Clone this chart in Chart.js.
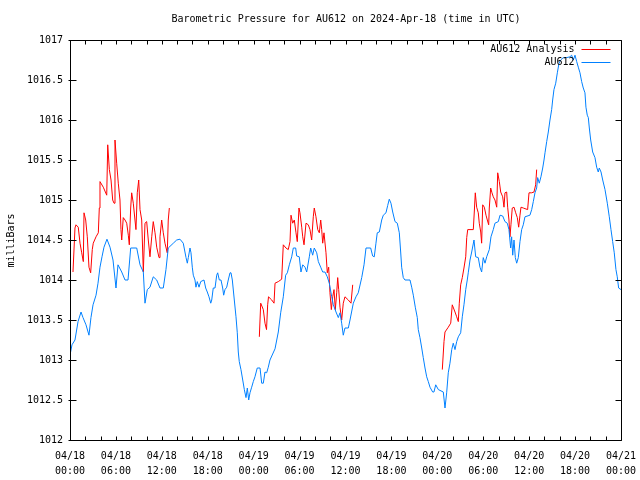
<!DOCTYPE html>
<html>
<head>
<meta charset="utf-8">
<script src="https://cdn.jsdelivr.net/npm/chart.js@4.4.1/dist/chart.umd.min.js"></script>
<style>
  html, body { margin: 0; padding: 0; background: #fff; }
</style>
</head>
<body>
<canvas id="pressureChart" width="640" height="480"></canvas>
<script>
// hours since 04/18 00:00 UTC, pressure in mb
const blueSeries = [
  [0.00,1013.06],[0.26,1013.19],[0.65,1013.25],[1.05,1013.48],[1.44,1013.60],[1.70,1013.53],[2.09,1013.44],[2.48,1013.31],
  [2.74,1013.53],[3.01,1013.69],[3.40,1013.81],[3.66,1013.96],[3.92,1014.16],[4.18,1014.29],[4.44,1014.41],[4.83,1014.51],
  [5.23,1014.41],[5.62,1014.25],[6.01,1013.90],[6.27,1014.19],[6.76,1014.10],[7.19,1014.00],[7.58,1014.00],[7.93,1014.40],
  [8.72,1014.40],[9.15,1014.19],[9.58,1014.10],[9.80,1013.71],[10.10,1013.88],[10.45,1013.91],[10.88,1014.04],[11.33,1014.00],
  [11.76,1013.90],[12.19,1013.90],[12.54,1014.13],[12.84,1014.40],[13.50,1014.46],[13.94,1014.50],[14.37,1014.51],[14.80,1014.46],
  [15.16,1014.28],[15.33,1014.21],[15.46,1014.28],[15.68,1014.40],[15.81,1014.34],[15.98,1014.16],[16.11,1014.06],[16.33,1014.00],
  [16.46,1013.91],[16.63,1013.98],[16.86,1013.91],[17.08,1013.98],[17.51,1014.00],[17.73,1013.90],[17.94,1013.85],[18.16,1013.79],
  [18.39,1013.71],[18.52,1013.75],[18.72,1013.90],[18.95,1013.90],[19.17,1014.06],[19.30,1014.09],[19.51,1014.00],[19.73,1014.00],
  [19.95,1013.90],[20.08,1013.81],[20.25,1013.88],[20.48,1013.91],[20.68,1014.00],[20.91,1014.09],[21.04,1014.09],[21.21,1014.00],
  [21.47,1013.75],[21.69,1013.54],[21.86,1013.34],[21.99,1013.10],[22.12,1012.98],[22.34,1012.88],[22.57,1012.75],[22.78,1012.63],
  [23.00,1012.53],[23.17,1012.65],[23.35,1012.50],[23.52,1012.59],[23.74,1012.66],[23.95,1012.73],[24.17,1012.79],[24.47,1012.90],
  [24.83,1012.90],[25.05,1012.71],[25.26,1012.71],[25.48,1012.85],[25.70,1012.84],[25.91,1012.91],[26.13,1013.00],[26.79,1013.14],
  [27.22,1013.35],[27.53,1013.59],[27.87,1013.79],[28.18,1014.06],[28.40,1014.09],[28.66,1014.19],[28.97,1014.29],[29.18,1014.40],
  [29.49,1014.40],[29.62,1014.30],[29.96,1014.29],[30.18,1014.10],[30.41,1014.19],[30.71,1014.16],[30.93,1014.10],[31.27,1014.29],
  [31.45,1014.40],[31.71,1014.31],[31.92,1014.40],[32.24,1014.34],[32.45,1014.23],[32.76,1014.16],[33.02,1014.10],[33.32,1014.10],
  [33.62,1014.04],[33.88,1013.96],[34.20,1013.79],[34.41,1013.69],[34.76,1013.60],[35.06,1013.53],[35.28,1013.59],[35.50,1013.46],
  [35.71,1013.31],[35.93,1013.40],[36.37,1013.40],[36.59,1013.50],[37.02,1013.71],[37.37,1013.79],[37.67,1013.84],[38.12,1014.03],
  [38.42,1014.19],[38.68,1014.40],[39.29,1014.40],[39.55,1014.30],[39.76,1014.29],[39.98,1014.46],[40.15,1014.59],[40.42,1014.60],
  [40.73,1014.75],[40.94,1014.81],[41.29,1014.84],[41.51,1014.93],[41.72,1015.01],[41.94,1014.96],[42.17,1014.85],[42.47,1014.73],
  [42.77,1014.71],[43.03,1014.59],[43.21,1014.35],[43.34,1014.16],[43.55,1014.03],[43.77,1014.00],[44.43,1014.00],[44.65,1013.91],
  [44.86,1013.81],[45.12,1013.66],[45.38,1013.53],[45.51,1013.38],[45.73,1013.28],[45.96,1013.15],[46.16,1013.03],[46.39,1012.90],
  [46.61,1012.79],[46.82,1012.73],[47.04,1012.66],[47.39,1012.60],[47.56,1012.60],[47.79,1012.69],[48.13,1012.63],[48.78,1012.60],
  [49.00,1012.40],[49.22,1012.59],[49.43,1012.84],[49.65,1012.96],[49.88,1013.13],[50.08,1013.21],[50.31,1013.13],[50.53,1013.23],
  [50.74,1013.29],[51.05,1013.34],[51.26,1013.54],[51.48,1013.69],[51.71,1013.88],[51.91,1014.00],[52.04,1014.09],[52.27,1014.25],
  [52.49,1014.35],[52.79,1014.50],[53.01,1014.29],[53.35,1014.28],[53.57,1014.16],[53.79,1014.10],[54.00,1014.28],[54.23,1014.21],
  [54.45,1014.29],[54.79,1014.38],[55.01,1014.54],[55.31,1014.63],[55.53,1014.71],[55.97,1014.73],[56.19,1014.81],[56.54,1014.80],
  [56.84,1014.73],[57.14,1014.71],[57.36,1014.63],[57.58,1014.40],[57.71,1014.54],[57.85,1014.31],[58.02,1014.50],[58.19,1014.28],
  [58.37,1014.21],[58.58,1014.28],[58.80,1014.48],[59.02,1014.63],[59.23,1014.69],[59.45,1014.79],[60.10,1014.81],[60.33,1014.88],
  [60.54,1014.98],[60.76,1015.09],[60.98,1015.15],[61.11,1015.28],[61.32,1015.21],[61.54,1015.29],[61.77,1015.40],[61.94,1015.50],
  [62.07,1015.59],[62.29,1015.73],[62.50,1015.85],[62.72,1016.00],[62.94,1016.13],[63.07,1016.25],[63.24,1016.38],[63.47,1016.46],
  [63.68,1016.59],[63.90,1016.71],[64.12,1016.75],[64.46,1016.78],[64.90,1016.78],[65.33,1016.79],[65.55,1016.81],[65.77,1016.75],
  [65.99,1016.81],[66.21,1016.73],[66.42,1016.66],[66.64,1016.59],[66.86,1016.48],[67.07,1016.40],[67.29,1016.34],[67.42,1016.16],
  [67.59,1016.06],[67.73,1016.03],[67.86,1015.90],[68.04,1015.75],[68.30,1015.60],[68.60,1015.53],[68.82,1015.41],[69.03,1015.35],
  [69.16,1015.40],[69.39,1015.35],[69.61,1015.25],[69.91,1015.13],[70.21,1014.96],[70.47,1014.79],[70.69,1014.63],[70.91,1014.48],
  [71.12,1014.34],[71.34,1014.13],[71.51,1014.04],[71.69,1013.90],[72.00,1013.88]
];

// analysis runs, null marks the breaks between them
const analysisSeries = [
  [0.39,1014.10],[0.65,1014.65],[0.78,1014.69],[1.08,1014.66],[1.31,1014.46],[1.53,1014.34],[1.74,1014.23],[1.83,1014.84],
  [2.05,1014.75],[2.26,1014.54],[2.48,1014.16],[2.70,1014.09],[2.91,1014.38],[3.04,1014.46],[3.40,1014.54],[3.70,1014.59],
  [3.83,1014.90],[3.92,1015.23],[4.35,1015.16],[4.80,1015.06],[4.93,1015.69],[5.14,1015.38],[5.36,1015.25],[5.58,1015.00],
  [5.75,1014.96],[5.88,1015.75],[6.10,1015.46],[6.31,1015.21],[6.53,1015.00],[6.66,1014.63],[6.76,1014.50],[6.96,1014.78],
  [7.19,1014.75],[7.41,1014.71],[7.62,1014.56],[7.75,1014.44],[7.93,1014.90],[8.06,1015.09],[8.27,1014.96],[8.49,1014.75],
  [8.62,1014.63],[8.79,1015.09],[8.98,1015.25],[9.15,1014.88],[9.37,1014.75],[9.58,1014.10],[9.80,1014.71],[10.02,1014.73],
  [10.23,1014.50],[10.45,1014.29],[10.68,1014.54],[10.88,1014.73],[11.11,1014.59],[11.33,1014.41],[11.63,1014.28],[11.76,1014.54],
  [11.98,1014.75],[12.19,1014.59],[12.41,1014.46],[12.71,1014.34],[12.84,1014.75],[12.98,1014.90],
  [18.00,null],
  [24.74,1013.29],[24.92,1013.71],[25.26,1013.63],[25.48,1013.46],[25.68,1013.38],[25.83,1013.69],[25.94,1013.79],[26.36,1013.75],
  [26.66,1013.71],[26.79,1013.96],[27.22,1013.98],[27.66,1014.01],[27.87,1014.44],[28.22,1014.40],[28.52,1014.38],[28.75,1014.48],
  [28.88,1014.81],[29.10,1014.71],[29.31,1014.75],[29.53,1014.59],[29.70,1014.48],[29.92,1014.90],[30.05,1014.84],[30.28,1014.66],
  [30.41,1014.54],[30.58,1014.44],[30.84,1014.71],[31.14,1014.69],[31.36,1014.63],[31.58,1014.50],[31.79,1014.79],[31.92,1014.90],
  [32.14,1014.79],[32.37,1014.63],[32.58,1014.59],[32.76,1014.75],[32.89,1014.63],[33.02,1014.46],[33.19,1014.59],[33.45,1014.34],
  [33.62,1014.09],[33.80,1014.16],[33.97,1013.84],[34.15,1013.63],[34.33,1013.79],[34.50,1013.88],[34.67,1013.63],[34.85,1013.84],
  [34.98,1014.03],[35.11,1013.88],[35.28,1013.66],[35.50,1013.50],[35.71,1013.71],[35.93,1013.79],[36.37,1013.75],[36.72,1013.71],
  [36.94,1013.94],
  [42.00,null],
  [48.65,1012.88],[48.87,1013.23],[49.00,1013.35],[49.43,1013.41],[49.75,1013.46],[49.95,1013.69],[50.31,1013.60],[50.53,1013.54],
  [50.74,1013.48],[50.87,1013.71],[51.05,1013.94],[51.26,1014.03],[51.48,1014.15],[51.71,1014.29],[51.84,1014.53],[51.97,1014.63],
  [52.70,1014.63],[52.83,1014.85],[52.96,1015.09],[53.14,1014.91],[53.35,1014.84],[53.48,1014.71],[53.67,1014.60],[53.79,1014.46],
  [53.93,1014.94],[54.14,1014.91],[54.36,1014.81],[54.53,1014.75],[54.71,1014.69],[54.79,1014.90],[54.97,1015.15],[55.14,1015.09],
  [55.31,1015.04],[55.53,1015.00],[55.76,1014.91],[55.89,1015.34],[56.10,1015.23],[56.28,1015.10],[56.54,1015.04],[56.71,1014.91],
  [56.84,1015.09],[57.06,1015.10],[57.19,1014.91],[57.36,1014.75],[57.49,1014.54],[57.62,1014.69],[57.79,1014.90],[58.02,1014.91],
  [58.24,1014.84],[58.45,1014.78],[58.63,1014.66],[58.80,1014.81],[58.93,1014.91],[59.23,1014.90],[59.80,1014.88],[59.98,1015.09],
  [60.33,1015.09],[60.63,1015.10],[60.85,1015.19],[60.98,1015.38]
];

const tickDates = ['04/18', '04/18', '04/18', '04/18', '04/19', '04/19', '04/19', '04/19', '04/20', '04/20', '04/20', '04/20', '04/21'];
const tickTimes = ['00:00', '06:00', '12:00', '18:00', '00:00', '06:00', '12:00', '18:00', '00:00', '06:00', '12:00', '18:00', '00:00'];

const FONT = '"DejaVu Sans Mono", "Liberation Mono", monospace';

// gnuplot style frame: box, inward tics on all sides, title, legend, y label
const gnuplotFrame = {
  id: 'gnuplotFrame',
  afterDraw(chart) {
    const { ctx, chartArea: a, scales: { x, y } } = chart;
    const L = Math.round(a.left) + 0.5, R = Math.round(a.right) + 0.5;
    const T = Math.round(a.top) + 0.5, B = Math.round(a.bottom) + 0.5;
    ctx.save();
    ctx.strokeStyle = '#000';
    ctx.lineWidth = 1;
    ctx.beginPath();
    ctx.rect(L, T, R - L, B - T);
    for (let h = 0; h <= 72; h += 2) {
      const px = Math.round(x.getPixelForValue(h)) + 0.5;
      ctx.moveTo(px, B); ctx.lineTo(px, B - 4);
      ctx.moveTo(px, T); ctx.lineTo(px, T + 4);
    }
    for (let p = 1012; p <= 1017; p += 0.5) {
      const py = Math.round(y.getPixelForValue(p)) + 0.5;
      ctx.moveTo(L - 2, py); ctx.lineTo(L + 6, py);
      ctx.moveTo(R, py); ctx.lineTo(R - 6, py);
    }
    ctx.stroke();

    ctx.fillStyle = '#000';
    ctx.font = '10px ' + FONT;
    ctx.textAlign = 'center';
    ctx.textBaseline = 'middle';
    ctx.fillText('Barometric Pressure for AU612 on 2024-Apr-18 (time in UTC)', (L + R) / 2, 19);

    ctx.save();
    ctx.translate(11, (T + B) / 2);
    ctx.rotate(-Math.PI / 2);
    ctx.fillText('milliBars', 0, 0);
    ctx.restore();

    ctx.textAlign = 'right';
    chart.data.datasets.forEach((ds, i) => {
      const ly = Math.round(a.top + 9 + i * 13) + 0.5;
      ctx.fillStyle = '#000';
      ctx.fillText(ds.label, R - 47, ly);
      ctx.strokeStyle = ds.borderColor;
      ctx.beginPath();
      ctx.moveTo(R - 40, ly);
      ctx.lineTo(R - 11, ly);
      ctx.stroke();
    });
    ctx.restore();
  }
};

const toPoints = rows => rows.map(r => ({ x: r[0], y: r[1] }));

new Chart(document.getElementById('pressureChart'), {
  type: 'line',
  data: {
    datasets: [{
      label: 'AU612 Analysis',
      data: toPoints(analysisSeries),
      borderColor: '#ff0000',
      borderWidth: 1,
      pointRadius: 0,
      tension: 0,
      spanGaps: false,
      order: 2
    }, {
      label: 'AU612',
      data: toPoints(blueSeries),
      borderColor: '#0080ff',
      borderWidth: 1,
      pointRadius: 0,
      tension: 0,
      order: 1
    }]
  },
  options: {
    responsive: false,
    animation: false,
    devicePixelRatio: 1,
    layout: { padding: { top: 40, right: 19, left: 0, bottom: 0 } },
    plugins: {
      legend: { display: false },
      title: { display: false },
      tooltip: { enabled: false }
    },
    scales: {
      x: {
        type: 'linear',
        min: 0,
        max: 72,
        grid: { display: false, drawTicks: false },
        border: { display: false },
        afterFit: scale => {
          scale.height = 40;
          scale.paddingLeft = 0;
          scale.paddingRight = 0;
        },
        ticks: {
          stepSize: 6,
          autoSkip: false,
          maxRotation: 0,
          padding: 9,
          color: '#000',
          font: { family: FONT, size: 10, lineHeight: 1.5 },
          callback: v => [tickDates[v / 6], tickTimes[v / 6]]
        }
      },
      y: {
        min: 1012,
        max: 1017,
        grid: { display: false, drawTicks: false },
        border: { display: false },
        afterFit: scale => {
          scale.width = 70;
          scale.paddingTop = 0;
          scale.paddingBottom = 0;
        },
        ticks: {
          stepSize: 0.5,
          padding: 7,
          color: '#000',
          font: { family: FONT, size: 10 },
          callback: v => Number.isInteger(v) ? String(v) : v.toFixed(1)
        }
      }
    }
  },
  plugins: [gnuplotFrame]
});
</script>
</body>
</html>
